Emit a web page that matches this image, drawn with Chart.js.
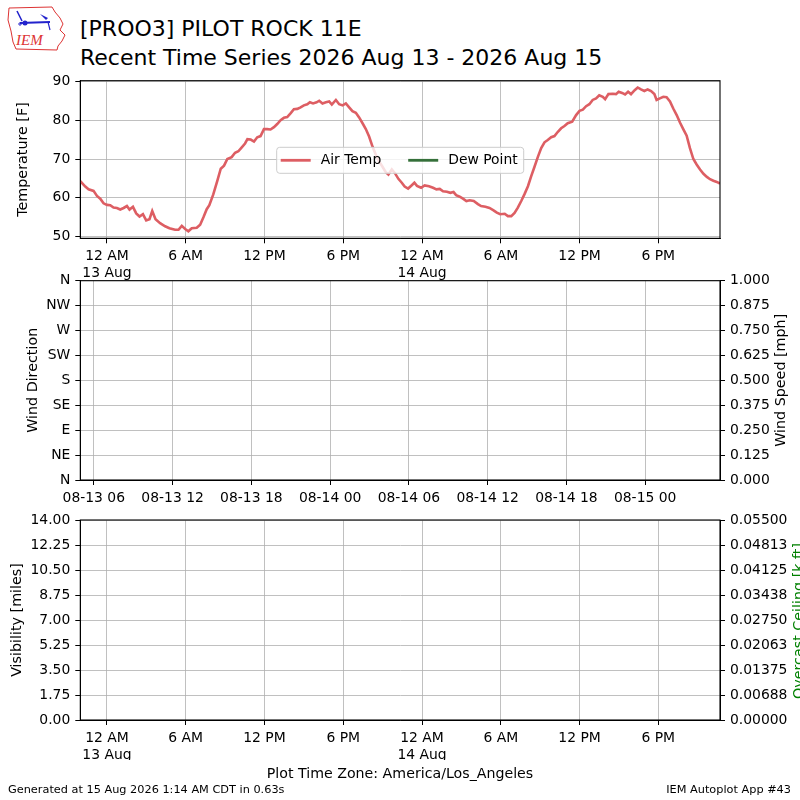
<!DOCTYPE html>
<html>
<head>
<meta charset="utf-8">
<script src="https://cdn.jsdelivr.net/npm/chart.js@4"></script>
<style>
  html, body { margin: 0; padding: 0; background: #fff; overflow: hidden; }
  #page { position: relative; width: 800px; height: 800px; font-family: "DejaVu Sans", sans-serif; color: #000; }
  canvas { position: absolute; left: 0; }
  .txt { position: absolute; white-space: nowrap; }
</style>
</head>
<body>
<div id="page">
  <svg class="txt" style="left:0;top:0" width="75" height="55" viewBox="0 0 75 55">
    <path d="M9 8 L52 7 L55 12 L60 18 L63 24 L60 30 L65 35 L62 41 L58 46 L57 50 L16 49 L13 42 L11 31 L8 20 Z"
          fill="none" stroke="#d33" stroke-width="1"/>
    <line x1="17" y1="11" x2="22" y2="21" stroke="#22c" stroke-width="1.5"/>
    <line x1="20" y1="23" x2="50" y2="22" stroke="#22c" stroke-width="2"/>
    <circle cx="25" cy="23" r="2.5" fill="#22c"/>
    <path d="M40 14 L48 18 L46 20 Z" fill="#22c"/>
    <line x1="48" y1="22" x2="50" y2="30" stroke="#22c" stroke-width="1.2"/>
    <circle cx="20" cy="24" r="1.2" fill="none" stroke="#22c"/>
    <text x="16" y="45" fill="#d33" font-family="Liberation Serif" font-style="italic" font-size="15">IEM</text>
  </svg>
  <div class="txt" style="left:80px;top:16px;font-size:22px;line-height:26px">[PROO3] PILOT ROCK 11E</div>
  <div class="txt" style="left:80px;top:44.5px;font-size:22px;line-height:26px">Recent Time Series 2026 Aug 13 - 2026 Aug 15</div>

  <canvas id="tempChart" width="800" height="230" style="top:60px"></canvas>
  <canvas id="windChart" width="800" height="255" style="top:250px"></canvas>
  <canvas id="visChart" width="800" height="270" style="top:490px"></canvas>

  <div class="txt" style="left:0;width:800px;text-align:center;top:765px;font-size:14.2px;line-height:16px">Plot Time Zone: America/Los_Angeles</div>
  <div class="txt" style="left:8px;top:783px;font-size:11.3px;line-height:13px">Generated at 15 Aug 2026 1:14 AM CDT in 0.63s</div>
  <div class="txt" style="right:9px;top:783px;font-size:11.3px;line-height:13px">IEM Autoplot App #43</div>
</div>

<script>
// hours since 13 Aug 00:00 (America/Los_Angeles)
const hours = [
  -2.03, -1.65, -1.4, -1.02, -0.76, -0.51, -0.26, 0, 0.25, 0.5, 0.76, 1.01, 1.27, 1.52, 1.72, 1.98,
  2.23, 2.48, 2.74, 2.99, 3.24, 3.45, 3.7, 4.05, 4.43, 4.76, 5.19, 5.45, 5.7, 5.96, 6.2, 6.46,
  6.84, 7.1, 7.35, 7.6, 7.8, 8.1, 8.4, 8.67, 8.92, 9.17, 9.5, 9.76, 10.01, 10.27, 10.52, 10.7,
  10.95, 11.2, 11.45, 11.7, 11.96, 12.21, 12.46, 12.72, 12.97, 13.23, 13.48, 13.73, 14.0, 14.24,
  14.5, 14.75, 15.0, 15.26, 15.46, 15.7, 15.97, 16.17, 16.42, 16.68, 16.93, 17.13, 17.44, 17.69,
  17.95, 18.2, 18.45, 18.7, 18.96, 19.21, 19.47, 19.72, 19.97, 20.23, 20.48, 20.73, 20.99, 21.24,
  21.44, 21.7, 21.95, 22.2, 22.46, 22.68, 22.94, 23.2, 23.42, 23.62, 23.93, 24.2, 24.53, 24.84,
  25.1, 25.35, 25.6, 25.9, 26.16, 26.4, 26.6, 26.87, 27.12, 27.38, 27.63, 27.94, 28.26, 28.5,
  28.83, 29.14, 29.45, 29.7, 29.96, 30.3, 30.54, 30.8, 31.05, 31.3, 31.56, 31.8, 32.07, 32.32,
  32.57, 32.82, 33.08, 33.33, 33.58, 33.84, 34.09, 34.35, 34.6, 34.85, 35.1, 35.44, 35.74, 36.0,
  36.25, 36.5, 36.75, 37.0, 37.26, 37.5, 37.77, 37.95, 38.2, 38.53, 38.78, 38.98, 39.24, 39.47,
  39.7, 39.92, 40.2, 40.43, 40.68, 40.94, 41.19, 41.45, 41.7, 41.87, 42.12, 42.38, 42.63, 42.89,
  43.14, 43.4, 43.65, 43.9, 44.16, 44.41, 44.67, 44.92, 45.18, 45.44, 45.7, 45.94, 46.2, 46.45, 46.7
];
const airTemp = [
  64.3, 62.9, 62.2, 61.8, 60.5, 59.8, 58.6, 58.2, 58.1, 57.5, 57.4, 57.0, 57.4, 57.9, 57.0, 57.7,
  56.0, 55.2, 55.8, 54.2, 54.5, 56.6, 54.5, 53.5, 52.7, 52.2, 51.8, 51.8, 52.8, 52.0, 51.4, 52.2,
  52.3, 53.1, 55.0, 57.1, 58.1, 60.9, 64.3, 67.5, 68.3, 70.0, 70.5, 71.6, 72.0, 73.0, 74.0, 75.1,
  75.0, 74.5, 75.6, 75.9, 77.7, 77.7, 77.6, 78.2, 79.0, 80.0, 80.6, 80.8, 81.8, 82.8,
  82.9, 83.3, 83.8, 84.1, 84.6, 84.3, 84.6, 85.0, 84.3, 84.6, 84.8, 84.0, 85.2, 84.1,
  83.8, 84.3, 83.3, 82.3, 81.9, 80.7, 79.2, 77.7, 75.8, 73.2, 71.1, 69.4, 68.0, 66.6,
  66.0, 67.3, 66.3, 64.9, 63.9, 62.9, 62.4, 63.2, 63.9, 63.1, 62.6, 63.2, 63.0, 62.6,
  62.2, 62.3, 61.7, 61.6, 61.3, 61.5, 60.7, 60.3, 59.8, 59.2, 59.4, 59.2, 58.4, 57.9,
  57.7, 57.4, 56.8, 56.2, 55.8, 55.9, 55.3, 55.3, 56.1, 57.5, 59.2, 60.9, 63.0, 65.6,
  68.0, 70.5, 72.8, 74.3, 74.9, 75.6, 75.9, 77.0, 77.9, 78.5, 79.2, 79.6, 81.3, 82.4,
  82.7, 83.6, 84.1, 85.2, 85.6, 86.4, 86.0, 85.4, 86.7, 86.8, 86.7, 87.3, 87.0, 86.6,
  87.3, 86.7, 87.7, 88.4, 87.9, 87.5, 87.9, 87.5, 86.7, 85.2, 85.6, 86.0, 85.9, 84.8,
  83.0, 81.3, 79.4, 77.7, 76.0, 72.8, 70.0, 68.6, 67.3, 66.2, 65.4, 64.8, 64.4, 64.1, 63.7
];
const dewPoint = [];

const localTicks = [0, 6, 12, 18, 24, 30, 36, 42];
const localTickLabels = [['12 AM', '13 Aug'], '6 AM', '12 PM', '6 PM', ['12 AM', '14 Aug'], '6 AM', '12 PM', '6 PM'];
const utcTicks = [-1, 5, 11, 17, 23, 29, 35, 41];
const utcTickLabels = ['08-13 06', '08-13 12', '08-13 18', '08-14 00', '08-14 06', '08-14 12', '08-14 18', '08-15 00'];
const tempTicks = [50, 60, 70, 80, 90];
const tempTickLabels = ['50', '60', '70', '80', '90'];
const dirTicks = [0, 45, 90, 135, 180, 225, 270, 315, 360];
const dirTickLabels = ['N', 'NE', 'E', 'SE', 'S', 'SW', 'W', 'NW', 'N'];
const speedTicks = [0, 0.125, 0.25, 0.375, 0.5, 0.625, 0.75, 0.875, 1];
const speedTickLabels = ['0.000', '0.125', '0.250', '0.375', '0.500', '0.625', '0.750', '0.875', '1.000'];
const visTicks = [0, 1.75, 3.5, 5.25, 7, 8.75, 10.5, 12.25, 14];
const visTickLabels = ['0.00', '1.75', '3.50', '5.25', '7.00', '8.75', '10.50', '12.25', '14.00'];
const ceilTicks = [0, 0.006875, 0.01375, 0.020625, 0.0275, 0.034375, 0.04125, 0.048125, 0.055];
const ceilTickLabels = ['0.00000', '0.00688', '0.01375', '0.02063', '0.02750', '0.03438', '0.04125', '0.04813', '0.05500'];

const X_MIN = -2.03, X_MAX = 46.7;
const tickFont = { family: 'DejaVu Sans', size: 13.9 };

// matplotlib-like frame round the plot area
const frame = {
  id: 'frame',
  afterDraw(chart) {
    const a = chart.chartArea, ctx = chart.ctx;
    ctx.save();
    ctx.strokeStyle = '#000';
    ctx.lineWidth = 1.1;
    ctx.strokeRect(a.left, a.top, a.right - a.left, a.bottom - a.top);
    ctx.restore();
  }
};

// rotated axis titles (both sides read bottom to top)
const sideTitles = {
  id: 'sideTitles',
  afterDraw(chart, args, opts) {
    const ctx = chart.ctx;
    (opts.items || []).forEach(t => {
      ctx.save();
      ctx.translate(t.x, t.y);
      ctx.rotate(-Math.PI / 2);
      ctx.font = '14.3px "DejaVu Sans"';
      ctx.fillStyle = t.color || '#000';
      ctx.textAlign = 'center';
      ctx.textBaseline = 'middle';
      ctx.fillText(t.text, 0, 0);
      ctx.restore();
    });
  }
};

// legend box inside the plot, drawn from the datasets
const boxLegend = {
  id: 'boxLegend',
  afterDatasetsDraw(chart, args, opts) {
    if (!opts.left) return;
    const ctx = chart.ctx;
    ctx.save();
    ctx.font = '13.9px "DejaVu Sans"';
    const sets = chart.data.datasets;
    let w = 4;
    sets.forEach((d, i) => { w += 30 + 10 + ctx.measureText(d.label).width + (i < sets.length - 1 ? 27 : 6); });
    const x0 = opts.left, y0 = opts.top, h = 26, r = 3;
    ctx.beginPath();
    ctx.moveTo(x0 + r, y0);
    ctx.arcTo(x0 + w, y0, x0 + w, y0 + h, r);
    ctx.arcTo(x0 + w, y0 + h, x0, y0 + h, r);
    ctx.arcTo(x0, y0 + h, x0, y0, r);
    ctx.arcTo(x0, y0, x0 + w, y0, r);
    ctx.closePath();
    ctx.fillStyle = 'rgba(255,255,255,0.8)';
    ctx.fill();
    ctx.strokeStyle = '#cccccc';
    ctx.lineWidth = 1;
    ctx.stroke();
    let x = x0 + 4;
    const cy = y0 + h / 2;
    sets.forEach(d => {
      ctx.strokeStyle = d.borderColor;
      ctx.lineWidth = 2.8;
      ctx.beginPath();
      ctx.moveTo(x, cy);
      ctx.lineTo(x + 30, cy);
      ctx.stroke();
      x += 40;
      ctx.fillStyle = '#000';
      ctx.textBaseline = 'middle';
      ctx.fillText(d.label, x, cy);
      x += ctx.measureText(d.label).width + 27;
    });
    ctx.restore();
  }
};

function axis(values, labels, min, max, extra) {
  return Object.assign({
    type: 'linear',
    min: min,
    max: max,
    bounds: 'data',
    afterBuildTicks: s => { s.ticks = values.map(v => ({ value: v })); },
    ticks: {
      autoSkip: false, maxRotation: 0, minRotation: 0, padding: 5,
      color: '#000', font: tickFont,
      callback: (v, i) => labels[i]
    },
    grid: { color: '#b0b0b0', lineWidth: 0.8, tickLength: 5, tickColor: '#000', tickWidth: 1 },
    border: { color: '#000', width: 1 }
  }, extra || {});
}

function sideWidth(w) { return s => { s.width = w; }; }
function bottomHeight(h) { return s => { s.height = h; }; }

const common = {
  responsive: false,
  animation: false,
  devicePixelRatio: 1,
  plugins: { legend: { display: false }, tooltip: { enabled: false } }
};

new Chart(document.getElementById('tempChart'), {
  type: 'line',
  data: {
    datasets: [
      { label: 'Air Temp', data: hours.map((h, i) => ({ x: h, y: airTemp[i] })),
        borderColor: '#dd5e63', borderWidth: 2.6, pointRadius: 0, tension: 0 },
      { label: 'Dew Point', data: dewPoint, borderColor: '#35703a', borderWidth: 2.6, pointRadius: 0 }
    ]
  },
  options: Object.assign({}, common, {
    layout: { padding: { top: 20.7, right: 80, left: 0, bottom: 0 } },
    scales: {
      x: axis(localTicks, localTickLabels, X_MIN, X_MAX, { afterFit: bottomHeight(51.7) }),
      y: axis(tempTicks, tempTickLabels, 49.6, 90.15, { afterFit: sideWidth(80.3) })
    },
    plugins: Object.assign({}, common.plugins, {
      sideTitles: { items: [{ text: 'Temperature [F]', x: 23, y: 99.5 }] },
      boxLegend: { left: 276.7, top: 87.3 }
    })
  }),
  plugins: [frame, sideTitles, boxLegend]
});

new Chart(document.getElementById('windChart'), {
  type: 'line',
  data: {
    datasets: [
      { label: 'Wind Direction', data: [], yAxisID: 'y', pointRadius: 0 },
      { label: 'Wind Speed', data: [], yAxisID: 'y2', pointRadius: 0 }
    ]
  },
  options: Object.assign({}, common, {
    layout: { padding: { top: 30.7, right: 0, left: 0, bottom: 0 } },
    scales: {
      x: axis(utcTicks, utcTickLabels, X_MIN, X_MAX, { afterFit: bottomHeight(25) }),
      y: axis(dirTicks, dirTickLabels, 0, 360, { afterFit: sideWidth(80.3) }),
      y2: axis(speedTicks, speedTickLabels, 0, 1, {
        position: 'right', afterFit: sideWidth(80),
        grid: { drawOnChartArea: false, tickLength: 5, tickColor: '#000', tickWidth: 1 }
      })
    },
    plugins: Object.assign({}, common.plugins, {
      sideTitles: { items: [
        { text: 'Wind Direction', x: 33, y: 130.3 },
        { text: 'Wind Speed [mph]', x: 781.7, y: 130.3 }
      ] }
    })
  }),
  plugins: [frame, sideTitles]
});

new Chart(document.getElementById('visChart'), {
  type: 'line',
  data: {
    datasets: [
      { label: 'Visibility', data: [], yAxisID: 'y', pointRadius: 0 },
      { label: 'Overcast Ceiling', data: [], yAxisID: 'y2', pointRadius: 0 }
    ]
  },
  options: Object.assign({}, common, {
    layout: { padding: { top: 30, right: 0, left: 0, bottom: 0 } },
    scales: {
      x: axis(localTicks, localTickLabels, X_MIN, X_MAX, { afterFit: bottomHeight(40) }),
      y: axis(visTicks, visTickLabels, 0, 14, { afterFit: sideWidth(80.3) }),
      y2: axis(ceilTicks, ceilTickLabels, 0, 0.055, {
        position: 'right', afterFit: sideWidth(80),
        grid: { drawOnChartArea: false, tickLength: 5, tickColor: '#000', tickWidth: 1 }
      })
    },
    plugins: Object.assign({}, common.plugins, {
      sideTitles: { items: [
        { text: 'Visibility [miles]', x: 17.3, y: 130 },
        { text: 'Overcast Ceiling [k ft]', x: 799, y: 131, color: '#008000' }
      ] }
    })
  }),
  plugins: [frame, sideTitles]
});
</script>
</body>
</html>
